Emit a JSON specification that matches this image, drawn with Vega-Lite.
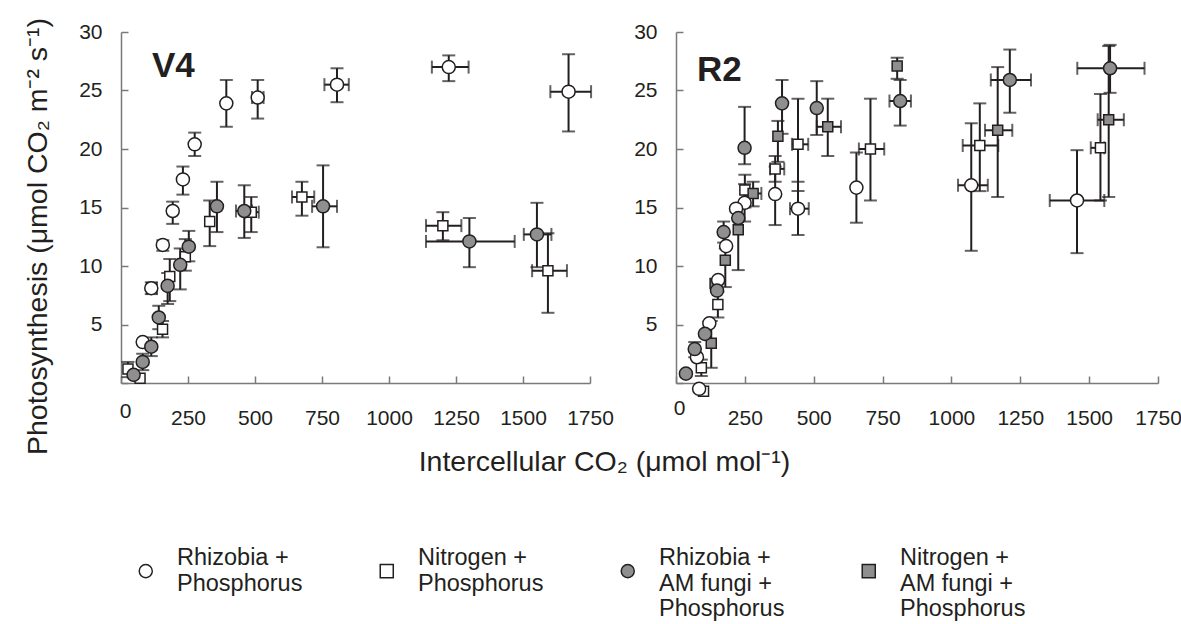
{
  "$schema": "https://vega.github.io/schema/vega-lite/v6.json",
  "background": "white",
  "padding": {"left": 22, "top": 17, "right": 5, "bottom": 5},
  "config": {
    "view": {"stroke": null},
    "font": "Liberation Sans",
    "axis": {
      "grid": false,
      "domainColor": "#7a7a7a",
      "domainWidth": 1.5,
      "tickColor": "#7a7a7a",
      "tickWidth": 1.5,
      "tickSize": -7,
      "labelFont": "Liberation Sans",
      "labelFontSize": 21,
      "labelColor": "#231f20",
      "labelFlush": false,
      "titleFont": "Liberation Sans",
      "titleFontSize": 28.5,
      "titleFontWeight": "normal",
      "titleColor": "#231f20"
    },
    "legend": {
      "orient": "none", "legendX": 13, "legendY": 527, "direction": "horizontal", "columns": 4,
      "columnPadding": 72, "padding": 0,
      "labelFont": "Liberation Sans", "labelFontSize": 23.5, "labelColor": "#231f20", "labelLimit": 400,
      "labelOffset": 19.5, "labelBaseline": "line-bottom",
      "symbolSize": 170, "symbolStrokeWidth": 1.5
    },
    "title": {"font": "Liberation Sans", "fontSize": 35, "fontWeight": "bold", "color": "#231f20"}
  },
  "data": {
    "values": [
      {"p":"V4","t":"NP","ci":1593,"a":9.6,"cl":1534,"ch":1664,"al":6.0,"ah":12.8},
      {"p":"V4","t":"NP","ci":1201,"a":13.45,"cl":1138,"ch":1270,"al":12.2,"ah":14.6},
      {"p":"V4","t":"NP","ci":675,"a":15.9,"cl":638,"ch":721,"al":14.3,"ah":17.2},
      {"p":"V4","t":"NP","ci":486,"a":14.6,"cl":464,"ch":514,"al":12.9,"ah":15.9},
      {"p":"V4","t":"NP","ci":331,"a":13.8,"cl":null,"ch":null,"al":11.7,"ah":15.6},
      {"p":"V4","t":"NP","ci":240,"a":10.8,"cl":null,"ch":null,"al":9.6,"ah":12.3},
      {"p":"V4","t":"NP","ci":182,"a":9.1,"cl":null,"ch":null,"al":7.0,"ah":10.6},
      {"p":"V4","t":"NP","ci":155,"a":4.6,"cl":null,"ch":null,"al":3.9,"ah":5.3},
      {"p":"V4","t":"NP","ci":26,"a":1.2,"cl":null,"ch":null,"al":0.5,"ah":1.8},
      {"p":"V4","t":"NP","ci":71,"a":0.4,"cl":null,"ch":null,"al":null,"ah":null},
      {"p":"V4","t":"RP","ci":1670,"a":24.9,"cl":1602,"ch":1754,"al":21.5,"ah":28.1},
      {"p":"V4","t":"RP","ci":1223,"a":27.0,"cl":1160,"ch":1297,"al":25.8,"ah":28.0},
      {"p":"V4","t":"RP","ci":806,"a":25.5,"cl":759,"ch":850,"al":24.0,"ah":26.9},
      {"p":"V4","t":"RP","ci":510,"a":24.4,"cl":489,"ch":532,"al":22.6,"ah":25.9},
      {"p":"V4","t":"RP","ci":393,"a":23.9,"cl":null,"ch":null,"al":21.9,"ah":25.9},
      {"p":"V4","t":"RP","ci":275,"a":20.4,"cl":null,"ch":null,"al":19.4,"ah":21.4},
      {"p":"V4","t":"RP","ci":231,"a":17.4,"cl":null,"ch":null,"al":16.1,"ah":18.5},
      {"p":"V4","t":"RP","ci":193,"a":14.7,"cl":null,"ch":null,"al":13.6,"ah":15.5},
      {"p":"V4","t":"RP","ci":156,"a":11.8,"cl":null,"ch":null,"al":11.3,"ah":12.2},
      {"p":"V4","t":"RP","ci":113,"a":8.1,"cl":97,"ch":134,"al":7.6,"ah":8.6},
      {"p":"V4","t":"RP","ci":81,"a":3.5,"cl":null,"ch":null,"al":null,"ah":null},
      {"p":"V4","t":"RAP","ci":1552,"a":12.7,"cl":1503,"ch":1606,"al":9.9,"ah":15.4},
      {"p":"V4","t":"RAP","ci":1300,"a":12.1,"cl":1138,"ch":1469,"al":9.9,"ah":14.1},
      {"p":"V4","t":"RAP","ci":754,"a":15.1,"cl":713,"ch":806,"al":11.6,"ah":18.6},
      {"p":"V4","t":"RAP","ci":460,"a":14.7,"cl":429,"ch":489,"al":12.4,"ah":16.9},
      {"p":"V4","t":"RAP","ci":358,"a":15.1,"cl":null,"ch":null,"al":12.9,"ah":17.2},
      {"p":"V4","t":"RAP","ci":253,"a":11.65,"cl":null,"ch":null,"al":10.4,"ah":13.0},
      {"p":"V4","t":"RAP","ci":221,"a":10.1,"cl":null,"ch":null,"al":8.0,"ah":11.5},
      {"p":"V4","t":"RAP","ci":174,"a":8.3,"cl":null,"ch":null,"al":6.75,"ah":9.4},
      {"p":"V4","t":"RAP","ci":141,"a":5.6,"cl":null,"ch":null,"al":4.6,"ah":6.6},
      {"p":"V4","t":"RAP","ci":113,"a":3.1,"cl":null,"ch":null,"al":2.3,"ah":3.9},
      {"p":"V4","t":"RAP","ci":81,"a":1.8,"cl":null,"ch":null,"al":1.1,"ah":2.5},
      {"p":"V4","t":"RAP","ci":47,"a":0.7,"cl":null,"ch":null,"al":null,"ah":null},

      {"p":"R2","t":"NP","ci":1541,"a":20.1,"cl":1506,"ch":1555,"al":15.6,"ah":24.7},
      {"p":"R2","t":"NP","ci":1103,"a":20.3,"cl":1041,"ch":1170,"al":16.4,"ah":23.9},
      {"p":"R2","t":"NP","ci":706,"a":20.0,"cl":664,"ch":756,"al":15.6,"ah":24.3},
      {"p":"R2","t":"NP","ci":443,"a":20.4,"cl":421,"ch":480,"al":16.4,"ah":24.3},
      {"p":"R2","t":"NP","ci":360,"a":18.3,"cl":342,"ch":393,"al":17.2,"ah":19.4},
      {"p":"R2","t":"NP","ci":250,"a":16.5,"cl":null,"ch":null,"al":15.0,"ah":17.8},
      {"p":"R2","t":"NP","ci":152,"a":6.7,"cl":null,"ch":null,"al":5.6,"ah":7.8},
      {"p":"R2","t":"NP","ci":92,"a":1.3,"cl":null,"ch":null,"al":0.6,"ah":2.0},
      {"p":"R2","t":"NP","ci":100,"a":-0.7,"cl":null,"ch":null,"al":null,"ah":null},
      {"p":"R2","t":"RP","ci":1456,"a":15.6,"cl":1357,"ch":1555,"al":11.1,"ah":19.9},
      {"p":"R2","t":"RP","ci":1072,"a":16.9,"cl":1024,"ch":1132,"al":11.3,"ah":22.2},
      {"p":"R2","t":"RP","ci":655,"a":16.7,"cl":null,"ch":null,"al":13.7,"ah":19.7},
      {"p":"R2","t":"RP","ci":443,"a":14.9,"cl":414,"ch":482,"al":12.65,"ah":17.2},
      {"p":"R2","t":"RP","ci":360,"a":16.15,"cl":null,"ch":null,"al":13.5,"ah":18.5},
      {"p":"R2","t":"RP","ci":249,"a":15.4,"cl":null,"ch":null,"al":13.8,"ah":17.0},
      {"p":"R2","t":"RP","ci":218,"a":14.9,"cl":null,"ch":null,"al":null,"ah":null},
      {"p":"R2","t":"RP","ci":182,"a":11.7,"cl":null,"ch":null,"al":null,"ah":null},
      {"p":"R2","t":"RP","ci":153,"a":8.8,"cl":null,"ch":null,"al":null,"ah":null},
      {"p":"R2","t":"RP","ci":121,"a":5.1,"cl":null,"ch":null,"al":null,"ah":null},
      {"p":"R2","t":"RP","ci":76,"a":2.2,"cl":null,"ch":null,"al":null,"ah":null},
      {"p":"R2","t":"RP","ci":84,"a":-0.5,"cl":null,"ch":null,"al":null,"ah":null},
      {"p":"R2","t":"NAP","ci":1571,"a":22.5,"cl":1531,"ch":1626,"al":15.9,"ah":28.8},
      {"p":"R2","t":"NAP","ci":1168,"a":21.6,"cl":1122,"ch":1221,"al":15.9,"ah":27.0},
      {"p":"R2","t":"NAP","ci":803,"a":27.1,"cl":null,"ch":null,"al":26.0,"ah":27.8},
      {"p":"R2","t":"NAP","ci":551,"a":21.9,"cl":511,"ch":599,"al":19.4,"ah":24.3},
      {"p":"R2","t":"NAP","ci":370,"a":21.1,"cl":null,"ch":null,"al":18.9,"ah":22.4},
      {"p":"R2","t":"NAP","ci":280,"a":16.2,"cl":258,"ch":310,"al":15.1,"ah":17.2},
      {"p":"R2","t":"NAP","ci":226,"a":13.1,"cl":null,"ch":null,"al":9.65,"ah":14.1},
      {"p":"R2","t":"NAP","ci":179,"a":10.5,"cl":null,"ch":null,"al":8.2,"ah":11.5},
      {"p":"R2","t":"NAP","ci":142,"a":8.5,"cl":null,"ch":null,"al":null,"ah":null},
      {"p":"R2","t":"NAP","ci":128,"a":3.4,"cl":null,"ch":null,"al":1.3,"ah":5.3},
      {"p":"R2","t":"RAP","ci":1576,"a":26.9,"cl":1457,"ch":1701,"al":24.8,"ah":28.9},
      {"p":"R2","t":"RAP","ci":1212,"a":25.9,"cl":1143,"ch":1289,"al":23.1,"ah":28.5},
      {"p":"R2","t":"RAP","ci":814,"a":24.1,"cl":775,"ch":853,"al":22.0,"ah":25.9},
      {"p":"R2","t":"RAP","ci":511,"a":23.5,"cl":null,"ch":null,"al":21.2,"ah":25.8},
      {"p":"R2","t":"RAP","ci":385,"a":23.9,"cl":null,"ch":null,"al":21.3,"ah":25.9},
      {"p":"R2","t":"RAP","ci":249,"a":20.1,"cl":null,"ch":null,"al":18.7,"ah":23.6},
      {"p":"R2","t":"RAP","ci":226,"a":14.1,"cl":null,"ch":null,"al":null,"ah":null},
      {"p":"R2","t":"RAP","ci":173,"a":12.9,"cl":null,"ch":null,"al":12.0,"ah":13.8},
      {"p":"R2","t":"RAP","ci":149,"a":7.9,"cl":null,"ch":null,"al":null,"ah":null},
      {"p":"R2","t":"RAP","ci":105,"a":4.2,"cl":null,"ch":null,"al":null,"ah":null},
      {"p":"R2","t":"RAP","ci":68,"a":2.9,"cl":null,"ch":null,"al":2.2,"ah":3.5},
      {"p":"R2","t":"RAP","ci":36,"a":0.8,"cl":null,"ch":null,"al":null,"ah":null}
    ]
  },
  "spacing": 86,
  "bounds": "flush",
  "hconcat": [
    {
      "width": 469,
      "height": 351,
      "title": {"text": "V4", "orient": "top", "anchor": "start", "frame": "group", "dx": 31, "offset": -95, "baseline": "alphabetic"},
      "transform": [{"filter": "datum.p == 'V4'"}],
      "layer": [
        {
          "mark": {"type": "errorbar", "ticks": {"size": 13, "thickness": 2, "color": "#231f20"}, "rule": {"strokeWidth": 2, "color": "#231f20"}},
          "encoding": {
            "x": {"field": "cl", "type": "quantitative", "title": "Intercellular CO₂ (μmol mol⁻¹)", "scale": {"domain": [0, 1750], "nice": false, "zero": false}},
            "x2": {"field": "ch"},
            "y": {"field": "a", "type": "quantitative", "title": "Photosynthesis (μmol CO₂ m⁻² s⁻¹)", "scale": {"domain": [0, 30], "nice": false}}
          }
        },
        {
          "mark": {"type": "errorbar", "ticks": {"size": 13, "thickness": 2, "color": "#231f20"}, "rule": {"strokeWidth": 2, "color": "#231f20"}},
          "encoding": {
            "x": {"field": "ci", "type": "quantitative", "title": "Intercellular CO₂ (μmol mol⁻¹)", "scale": {"domain": [0, 1750], "nice": false, "zero": false}},
            "y": {"field": "al", "type": "quantitative", "title": "Photosynthesis (μmol CO₂ m⁻² s⁻¹)", "scale": {"domain": [0, 30], "nice": false}},
            "y2": {"field": "ah"}
          }
        },
        {
          "transform": [{"filter": "datum.t == 'NP' || datum.t == 'NAP'"}],
          "mark": {"type": "point", "filled": true, "stroke": "#231f20", "strokeWidth": 1.5, "opacity": 1, "size": 100},
          "encoding": {
            "x": {"field": "ci", "type": "quantitative", "title": "Intercellular CO₂ (μmol mol⁻¹)", "scale": {"domain": [0, 1750], "nice": false, "zero": false}},
            "y": {"field": "a", "type": "quantitative", "title": "Photosynthesis (μmol CO₂ m⁻² s⁻¹)", "scale": {"domain": [0, 30], "nice": false}},
            "fill": {
              "field": "t", "type": "nominal",
              "scale": {"domain": ["RP", "NP", "RAP", "NAP"], "range": ["#ffffff", "#ffffff", "#8f8f8f", "#8f8f8f"]},
              "legend": {"title": null, "labelExpr": "datum.value == 'RP' ? ['Rhizobia +', 'Phosphorus', ''] : datum.value == 'NP' ? ['Nitrogen +', 'Phosphorus', ''] : datum.value == 'RAP' ? ['Rhizobia +', 'AM fungi +', 'Phosphorus'] : ['Nitrogen +', 'AM fungi +', 'Phosphorus']"}
            },
            "shape": {
              "field": "t", "type": "nominal",
              "scale": {"domain": ["RP", "NP", "RAP", "NAP"], "range": ["circle", "square", "circle", "square"]},
              "legend": {"title": null, "labelExpr": "datum.value == 'RP' ? ['Rhizobia +', 'Phosphorus', ''] : datum.value == 'NP' ? ['Nitrogen +', 'Phosphorus', ''] : datum.value == 'RAP' ? ['Rhizobia +', 'AM fungi +', 'Phosphorus'] : ['Nitrogen +', 'AM fungi +', 'Phosphorus']"}
            }
          }
        },
        {
          "transform": [{"filter": "datum.t == 'RP' || datum.t == 'RAP'"}],
          "mark": {"type": "point", "filled": true, "stroke": "#231f20", "strokeWidth": 1.5, "opacity": 1, "size": 170},
          "encoding": {
            "x": {
              "field": "ci", "type": "quantitative", "title": "Intercellular CO₂ (μmol mol⁻¹)",
              "scale": {"domain": [0, 1750], "nice": false, "zero": false},
              "axis": {
                "values": [0, 250, 500, 750, 1000, 1250, 1500, 1750],
                "format": "d",
                "labelBaseline": "top",
                "labelPadding": {"condition": {"test": "datum.value == 0", "value": 24}, "value": 31},
                "labelOffset": {"condition": {"test": "datum.value == 0", "value": 4}, "value": 0},
                "titleX": 483, "titleY": 87, "titleAlign": "center", "titleBaseline": "alphabetic"
              }
            },
            "y": {
              "field": "a", "type": "quantitative", "title": "Photosynthesis (μmol CO₂ m⁻² s⁻¹)",
              "scale": {"domain": [0, 30], "nice": false},
              "axis": {
                "values": [0, 5, 10, 15, 20, 25, 30],
                "labelExpr": "datum.value == 0 ? '' : datum.label",
                "labelPadding": 26,
                "titleX": -75, "titleY": 204, "titleAlign": "center", "titleBaseline": "alphabetic", "titleAngle": -90
              }
            },
            "fill": {
              "field": "t", "type": "nominal",
              "scale": {"domain": ["RP", "NP", "RAP", "NAP"], "range": ["#ffffff", "#ffffff", "#8f8f8f", "#8f8f8f"]},
              "legend": {"title": null, "labelExpr": "datum.value == 'RP' ? ['Rhizobia +', 'Phosphorus', ''] : datum.value == 'NP' ? ['Nitrogen +', 'Phosphorus', ''] : datum.value == 'RAP' ? ['Rhizobia +', 'AM fungi +', 'Phosphorus'] : ['Nitrogen +', 'AM fungi +', 'Phosphorus']"}
            },
            "shape": {
              "field": "t", "type": "nominal",
              "scale": {"domain": ["RP", "NP", "RAP", "NAP"], "range": ["circle", "square", "circle", "square"]},
              "legend": {"title": null, "labelExpr": "datum.value == 'RP' ? ['Rhizobia +', 'Phosphorus', ''] : datum.value == 'NP' ? ['Nitrogen +', 'Phosphorus', ''] : datum.value == 'RAP' ? ['Rhizobia +', 'AM fungi +', 'Phosphorus'] : ['Nitrogen +', 'AM fungi +', 'Phosphorus']"}
            }
          }
        }
      ]
    },
    {
      "width": 482,
      "height": 351,
      "title": {"text": "R2", "orient": "top", "anchor": "start", "frame": "group", "dx": 21, "offset": -95, "baseline": "alphabetic"},
      "transform": [{"filter": "datum.p == 'R2'"}],
      "layer": [
        {
          "mark": {"type": "errorbar", "ticks": {"size": 13, "thickness": 2, "color": "#231f20"}, "rule": {"strokeWidth": 2, "color": "#231f20"}},
          "encoding": {
            "x": {"field": "cl", "type": "quantitative", "title": null, "scale": {"domain": [0, 1750], "nice": false, "zero": false}},
            "x2": {"field": "ch"},
            "y": {"field": "a", "type": "quantitative", "title": null, "scale": {"domain": [0, 30], "nice": false}}
          }
        },
        {
          "mark": {"type": "errorbar", "ticks": {"size": 13, "thickness": 2, "color": "#231f20"}, "rule": {"strokeWidth": 2, "color": "#231f20"}},
          "encoding": {
            "x": {"field": "ci", "type": "quantitative", "title": null, "scale": {"domain": [0, 1750], "nice": false, "zero": false}},
            "y": {"field": "al", "type": "quantitative", "title": null, "scale": {"domain": [0, 30], "nice": false}},
            "y2": {"field": "ah"}
          }
        },
        {
          "transform": [{"filter": "datum.t == 'NP' || datum.t == 'NAP'"}],
          "mark": {"type": "point", "filled": true, "stroke": "#231f20", "strokeWidth": 1.5, "opacity": 1, "size": 100},
          "encoding": {
            "x": {"field": "ci", "type": "quantitative", "title": null, "scale": {"domain": [0, 1750], "nice": false, "zero": false}},
            "y": {"field": "a", "type": "quantitative", "title": null, "scale": {"domain": [0, 30], "nice": false}},
            "fill": {
              "field": "t", "type": "nominal",
              "scale": {"domain": ["RP", "NP", "RAP", "NAP"], "range": ["#ffffff", "#ffffff", "#8f8f8f", "#8f8f8f"]},
              "legend": {"title": null, "labelExpr": "datum.value == 'RP' ? ['Rhizobia +', 'Phosphorus', ''] : datum.value == 'NP' ? ['Nitrogen +', 'Phosphorus', ''] : datum.value == 'RAP' ? ['Rhizobia +', 'AM fungi +', 'Phosphorus'] : ['Nitrogen +', 'AM fungi +', 'Phosphorus']"}
            },
            "shape": {
              "field": "t", "type": "nominal",
              "scale": {"domain": ["RP", "NP", "RAP", "NAP"], "range": ["circle", "square", "circle", "square"]},
              "legend": {"title": null, "labelExpr": "datum.value == 'RP' ? ['Rhizobia +', 'Phosphorus', ''] : datum.value == 'NP' ? ['Nitrogen +', 'Phosphorus', ''] : datum.value == 'RAP' ? ['Rhizobia +', 'AM fungi +', 'Phosphorus'] : ['Nitrogen +', 'AM fungi +', 'Phosphorus']"}
            }
          }
        },
        {
          "transform": [{"filter": "datum.t == 'RP' || datum.t == 'RAP'"}],
          "mark": {"type": "point", "filled": true, "stroke": "#231f20", "strokeWidth": 1.5, "opacity": 1, "size": 170},
          "encoding": {
            "x": {
              "field": "ci", "type": "quantitative", "title": null,
              "scale": {"domain": [0, 1750], "nice": false, "zero": false},
              "axis": {
                "values": [0, 250, 500, 750, 1000, 1250, 1500, 1750],
                "format": "d",
                "labelBaseline": "top",
                "labelPadding": {"condition": {"test": "datum.value == 0", "value": 21}, "value": 31},
                "labelOffset": {"condition": {"test": "datum.value == 0", "value": 3}, "value": 0}
              }
            },
            "y": {
              "field": "a", "type": "quantitative", "title": null,
              "scale": {"domain": [0, 30], "nice": false},
              "axis": {
                "values": [0, 5, 10, 15, 20, 25, 30],
                "labelExpr": "datum.value == 0 ? '' : datum.label",
                "labelPadding": 26
              }
            },
            "fill": {
              "field": "t", "type": "nominal",
              "scale": {"domain": ["RP", "NP", "RAP", "NAP"], "range": ["#ffffff", "#ffffff", "#8f8f8f", "#8f8f8f"]},
              "legend": {"title": null, "labelExpr": "datum.value == 'RP' ? ['Rhizobia +', 'Phosphorus', ''] : datum.value == 'NP' ? ['Nitrogen +', 'Phosphorus', ''] : datum.value == 'RAP' ? ['Rhizobia +', 'AM fungi +', 'Phosphorus'] : ['Nitrogen +', 'AM fungi +', 'Phosphorus']"}
            },
            "shape": {
              "field": "t", "type": "nominal",
              "scale": {"domain": ["RP", "NP", "RAP", "NAP"], "range": ["circle", "square", "circle", "square"]},
              "legend": {"title": null, "labelExpr": "datum.value == 'RP' ? ['Rhizobia +', 'Phosphorus', ''] : datum.value == 'NP' ? ['Nitrogen +', 'Phosphorus', ''] : datum.value == 'RAP' ? ['Rhizobia +', 'AM fungi +', 'Phosphorus'] : ['Nitrogen +', 'AM fungi +', 'Phosphorus']"}
            }
          }
        }
      ]
    }
  ]
}
